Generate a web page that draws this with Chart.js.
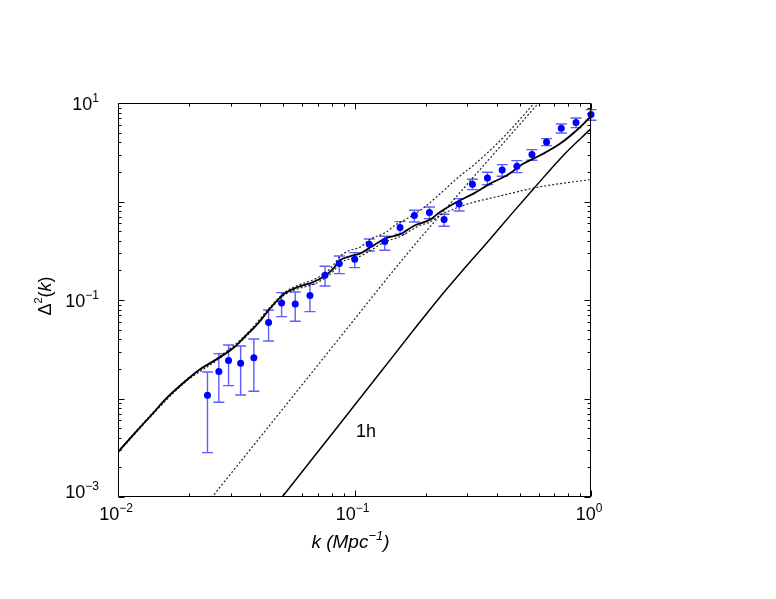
<!DOCTYPE html>
<html><head><meta charset="utf-8">
<script src="https://cdn.jsdelivr.net/npm/chart.js@4/dist/chart.umd.min.js"></script>
<style>html,body{margin:0;padding:0;background:#fff}</style>
</head><body>
<canvas id="c" width="776" height="599"></canvas>
<script>
// ---- measured data points (k, Delta^2) with error bars ----
const dataK  = [0.0239,0.02669,0.02934,0.0330,0.03754,0.04332,0.04918,0.05616,0.06481,0.07503,0.08625,0.1002,0.1155,0.1343,0.1558,0.1791,0.2074,0.2392,0.2770,0.3153,0.3649,0.4212,0.4861,0.5627,0.6486,0.7487,0.8640,1.0];
const dataV  = [0.0108,0.01875,0.02427,0.02277,0.0260,0.0590,0.0933,0.0910,0.1109,0.1782,0.2343,0.2589,0.3677,0.3917,0.5433,0.7194,0.7714,0.6548,0.9432,1.495,1.732,2.089,2.277,2.993,4.018,5.535,6.324,7.625];
const dataHi = [0.0186,0.02857,0.0349,0.0341,0.0402,0.0791,0.1189,0.1206,0.1443,0.2198,0.2797,0.3029,0.416,0.4434,0.6252,0.8145,0.8795,0.7413,1.070,1.680,1.978,2.369,2.602,3.364,4.351,6.119,7.04,8.567];
const dataLo = [0.00282,0.00915,0.01352,0.01086,0.01183,0.0384,0.0678,0.0608,0.0762,0.1387,0.1854,0.2133,0.3145,0.3195,0.4645,0.6194,0.6705,0.5601,0.8008,1.321,1.484,1.803,1.964,2.621,3.694,4.959,5.626,6.677];

// ---- total model (solid) ----
const totalK = [0.0100,0.01173,0.0138,0.01623,0.0191,0.02246,0.02643,0.0311,0.03428,0.03904,0.04444,0.05065,0.05765,0.06692,0.07378,0.08135,0.08683,0.09572,0.1055,0.1163,0.1346,0.1558,0.1804,0.2087,0.2301,0.2708,0.3184,0.3747,0.4410,0.5185,0.6101,0.7413,0.9010,1.0];
const totalV = [0.002863,0.004402,0.006752,0.01036,0.01471,0.02012,0.02542,0.03333,0.04211,0.0576,0.08489,0.1161,0.1355,0.1523,0.1712,0.2083,0.2529,0.2778,0.2959,0.3404,0.4201,0.4645,0.5733,0.6549,0.7822,0.9883,1.203,1.519,1.845,2.426,2.944,3.871,5.705,7.328];

// ---- 2-halo term (dotted, flattening) ----
const twoHaloK = [0.01,0.0138,0.0191,0.02643,0.03428,0.04444,0.05065,0.05765,0.06692,0.07378,0.08135,0.08683,0.09572,0.1055,0.1163,0.1346,0.1558,0.1718,0.1894,0.2087,0.2301,0.2708,0.3184,0.3747,0.4410,0.5185,0.6101,0.7413,1.0];
const twoHaloV = [0.002809,0.006627,0.01443,0.02483,0.04114,0.08293,0.1129,0.1299,0.1443,0.1623,0.1956,0.2358,0.2620,0.2778,0.3158,0.3898,0.4381,0.5041,0.5733,0.6193,0.7241,0.863,0.9815,1.078,1.183,1.299,1.410,1.519,1.668];

// ---- alternative total model (dotted, upper) ----
const upperK = [0.01,0.0138,0.0191,0.02643,0.03428,0.04444,0.05065,0.05765,0.06692,0.07378,0.08135,0.08683,0.09572,0.1055,0.1163,0.1346,0.1484,0.1718,0.1950,0.2301,0.2708,0.3184,0.3747,0.4410,0.5185,0.6101];
const upperV = [0.002911,0.006863,0.01495,0.02589,0.04299,0.08673,0.1197,0.1410,0.1604,0.1824,0.2251,0.2778,0.3196,0.3428,0.4133,0.4811,0.5733,0.6995,0.8531,1.197,1.708,2.330,3.310,4.890,7.503,11.83];

// ---- 1-halo term (solid) ----
const oneHaloK = [0.045,0.04947,0.07000,0.09572,0.1300,0.1774,0.2301,0.2900,0.3639,0.4600,0.5754,0.7600,1.0];
const oneHaloV = [0.000749,0.001,0.00288,0.00746,0.0190,0.04924,0.1073,0.2060,0.3836,0.7400,1.371,2.900,5.495];

// ---- alternative 1-halo term (dotted) ----
const altOneHaloK = [0.022,0.025,0.04791,0.09177,0.1718,0.3184,0.6002,0.6725];
const altOneHaloV = [0.000681,0.001,0.006995,0.04924,0.3196,1.769,10,13.65];

// ---- tick labels ----
const xTickValues = [0.01, 0.1, 1];
const xTickExps   = ['\u22122', '\u22121', '0'];
const yTickValues = [10, 0.1, 0.001];
const yTickExps   = ['1', '\u22121', '\u22123'];

const label1h = {k: 0.1119, v: 0.00454, text: '1h'};

const FONT = '"Liberation Sans", Arial, Helvetica, sans-serif';
const zip = (a, b) => a.map((x, i) => ({x: x, y: b[i]}));

function logTicks(min, max) {
  const out = [];
  for (let e = Math.floor(Math.log10(min)); e <= Math.ceil(Math.log10(max)); e++) {
    for (let m = 1; m <= 9; m++) {
      const v = m * Math.pow(10, e);
      if (v >= min * 0.999 && v <= max * 1.001) out.push({v: v, major: m === 1});
    }
  }
  return out;
}

function drawPieces(ctx, pieces, x, y, align) {
  let total = 0;
  pieces.forEach(p => { ctx.font = p.font; p.w = ctx.measureText(p.t).width; total += p.w; });
  let cx = align === 'center' ? x - total / 2 : (align === 'right' ? x - total : x);
  ctx.textAlign = 'left';
  ctx.textBaseline = 'alphabetic';
  pieces.forEach(p => { ctx.font = p.font; ctx.fillText(p.t, cx, y - (p.up || 0)); cx += p.w; });
}

const errorBars = {
  id: 'errorBars',
  beforeDatasetsDraw(chart) {
    const ctx = chart.ctx, xs = chart.scales.x, ys = chart.scales.y;
    ctx.save();
    ctx.strokeStyle = 'rgba(40,40,255,0.75)';
    ctx.lineWidth = 1.4;
    dataK.forEach((k, i) => {
      const px = xs.getPixelForValue(k);
      const pTop = ys.getPixelForValue(dataHi[i]);
      const pBot = ys.getPixelForValue(dataLo[i]);
      ctx.beginPath();
      ctx.moveTo(px, pTop); ctx.lineTo(px, pBot);
      ctx.moveTo(px - 5.5, pTop); ctx.lineTo(px + 5.5, pTop);
      ctx.moveTo(px - 5.5, pBot); ctx.lineTo(px + 5.5, pBot);
      ctx.stroke();
    });
    ctx.restore();
  }
};

const decor = {
  id: 'decor',
  afterDraw(chart) {
    const ctx = chart.ctx, a = chart.chartArea, xs = chart.scales.x, ys = chart.scales.y;
    ctx.save();
    ctx.strokeStyle = '#000';
    ctx.lineWidth = 1;
    const L = Math.round(a.left) + 0.5, R = Math.round(a.right) - 0.5;
    const T = Math.round(a.top) + 0.5, B = Math.round(a.bottom) - 0.5;
    ctx.strokeRect(L, T, R - L, B - T);
    ctx.beginPath();
    logTicks(xs.min, xs.max).forEach(t => {
      const px = Math.round(xs.getPixelForValue(t.v)) + 0.5;
      const len = t.major ? 6 : 3;
      ctx.moveTo(px, B); ctx.lineTo(px, B - len);
      ctx.moveTo(px, T); ctx.lineTo(px, T + len);
    });
    logTicks(ys.min, ys.max).forEach(t => {
      const py = Math.round(ys.getPixelForValue(t.v)) + 0.5;
      const len = t.major ? 6 : 3;
      ctx.moveTo(L, py); ctx.lineTo(L + len, py);
      ctx.moveTo(R, py); ctx.lineTo(R - len, py);
    });
    ctx.stroke();

    ctx.fillStyle = '#000';
    const bf = '18px ' + FONT, ef = '12px ' + FONT;
    xTickValues.forEach((v, i) => {
      const px = xs.getPixelForValue(v);
      drawPieces(ctx, [{t: '10', font: bf}, {t: xTickExps[i], font: ef, up: 8}], px - 2, a.bottom + 23, 'center');
    });
    yTickValues.forEach((v, i) => {
      const py = ys.getPixelForValue(v);
      const shift = (i === yTickValues.length - 1) ? -6 : 0;
      drawPieces(ctx, [{t: '10', font: bf}, {t: yTickExps[i], font: ef, up: 8}], a.left - 19, py + 7 + shift, 'right');
    });

    // x axis title
    const tf = 'italic 19px ' + FONT, tef = 'italic 13px ' + FONT;
    drawPieces(ctx, [{t: 'k (Mpc', font: tf}, {t: '\u22121', font: tef, up: 8}, {t: ')', font: tf}], (a.left + a.right) / 2 - 4, 548, 'center');

    // y axis title (rotated)
    ctx.save();
    ctx.translate(44, 296);
    ctx.rotate(-Math.PI / 2);
    drawPieces(ctx, [
      {t: '\u0394', font: '18px ' + FONT},
      {t: '2', font: '11px ' + FONT, up: 9},
      {t: '(', font: '18px ' + FONT},
      {t: 'k', font: 'italic 18px ' + FONT},
      {t: ')', font: '18px ' + FONT}
    ], 0, 7, 'center');
    ctx.restore();

    // 1h label
    ctx.font = '18px ' + FONT;
    ctx.textAlign = 'center';
    ctx.textBaseline = 'middle';
    ctx.fillText(label1h.text, xs.getPixelForValue(label1h.k), ys.getPixelForValue(label1h.v));
    ctx.restore();
  }
};

const lineCommon = {showLine: true, pointRadius: 0, fill: false, cubicInterpolationMode: 'monotone', clip: 0};

new Chart(document.getElementById('c'), {
  type: 'scatter',
  data: {
    datasets: [
      {label: 'data', data: zip(dataK, dataV), showLine: false, pointRadius: 3.5, pointHoverRadius: 3.5,
       backgroundColor: '#0000ff', borderWidth: 0, clip: false},
      Object.assign({label: 'total', data: zip(totalK, totalV), borderColor: '#000', borderWidth: 1.8}, lineCommon),
      Object.assign({label: '2h', data: zip(twoHaloK, twoHaloV), borderColor: '#222', borderWidth: 1.2, borderDash: [2, 2]}, lineCommon),
      Object.assign({label: 'alt total', data: zip(upperK, upperV), borderColor: '#222', borderWidth: 1.2, borderDash: [2, 2]}, lineCommon),
      Object.assign({label: '1h', data: zip(oneHaloK, oneHaloV), borderColor: '#000', borderWidth: 1.5}, lineCommon),
      Object.assign({label: 'alt 1h', data: zip(altOneHaloK, altOneHaloV), borderColor: '#222', borderWidth: 1.2, borderDash: [2, 2]}, lineCommon)
    ]
  },
  options: {
    responsive: false,
    animation: false,
    devicePixelRatio: 1,
    layout: {padding: {left: 118, right: 185, top: 103, bottom: 102}},
    plugins: {legend: {display: false}, tooltip: {enabled: false}, title: {display: false}},
    scales: {
      x: {type: 'logarithmic', min: 0.01, max: 1, ticks: {display: false}, grid: {display: false},
          border: {display: false}, afterFit: s => { s.height = 0; }},
      y: {type: 'logarithmic', min: 0.001, max: 10, ticks: {display: false}, grid: {display: false},
          border: {display: false}, afterFit: s => { s.width = 0; }}
    }
  },
  plugins: [errorBars, decor]
});
</script>
</body></html>
